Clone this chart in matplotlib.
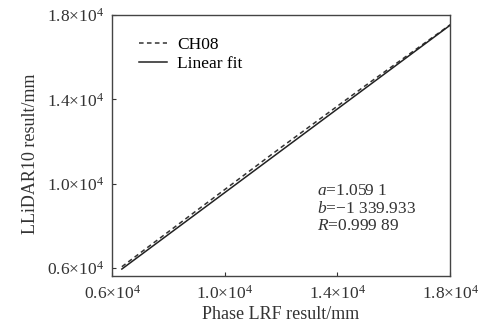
import matplotlib
matplotlib.use('Agg')
import matplotlib.pyplot as plt
import numpy as np

plt.rcParams['font.family'] = ['Liberation Serif', 'DejaVu Serif']
plt.rcParams['mathtext.fontset'] = 'custom'
plt.rcParams['mathtext.rm'] = 'Liberation Serif'
plt.rcParams['mathtext.it'] = 'Liberation Serif:italic'

# data
ch08_x = [6350, 9000, 12000, 15000, 18000]
ch08_y = [6060, 8720, 11720, 14660, 17540]
fit_x = [6350, 18000]
fit_y = [5950, 17520]

xticks = [6000, 10000, 14000, 18000]
yticks = [6000, 10000, 14000, 18000]
tick_labels = [r'0.6$\times$10$^4$', r'1.0$\times$10$^4$', r'1.4$\times$10$^4$', r'1.8$\times$10$^4$']

fs = 12.5
fig = plt.figure(figsize=(4.88, 3.27), dpi=100)
ax = fig.add_axes([0.2295, 0.156, 0.693, 0.798])

ax.plot(ch08_x, ch08_y, '--', color='#333333', lw=1.1, dashes=(3, 2.2), label='CH08')
ax.plot(fit_x, fit_y, '-', color='#222222', lw=1.1, label='Linear fit')

ax.set_xlim(6000, 18000)
ax.set_ylim(5620, 18000)
ax.set_xticks(xticks)
ax.set_xticklabels(tick_labels)
ax.set_yticks(yticks)
ax.set_yticklabels(tick_labels)
ax.tick_params(direction='in', length=3, labelsize=fs, colors='#333333', pad=6)
for s in ax.spines.values():
    s.set_color('#444444')
    s.set_linewidth(1.0)

ax.set_xlabel('Phase LRF result/mm', fontsize=fs + 0.5, color='#333333', labelpad=3)
ax.set_ylabel('LLiDAR10 result/mm', fontsize=fs + 0.5, color='#333333')
ax.yaxis.set_label_coords(-0.215, 0.47)

ax.legend(loc='upper left', bbox_to_anchor=(0.08, 0.915), frameon=False, fontsize=fs,
          handlelength=1.6, handletextpad=0.6, labelspacing=0.15, borderaxespad=0, borderpad=0)

ax.text(0.607, 0.355, '$a$=1.059 1\n$b$=\u22121 339.933\n$R$=0.999 89', transform=ax.transAxes,
        fontsize=fs, color='#333333', va='top', ha='left', linespacing=1.1)

plt.savefig('out.png', dpi=100)
